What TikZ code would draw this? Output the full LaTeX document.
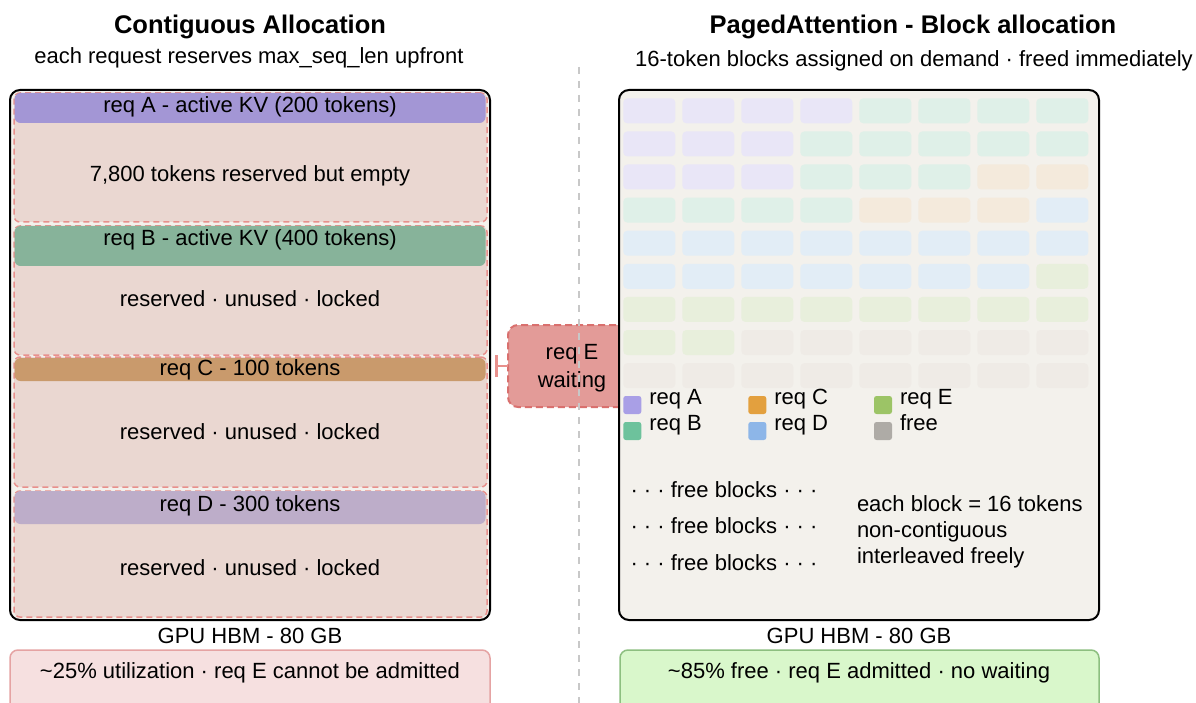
\documentclass[tikz,border=0pt]{standalone}
\usepackage{fontspec}
\setmainfont{Liberation Sans}
\usetikzlibrary{arrows.meta}

\definecolor{panelbg}{HTML}{F3F1EC}
\definecolor{resfill}{HTML}{EAD7D1}
\definecolor{resline}{HTML}{E8908C}
\definecolor{barA}{HTML}{A396D5}
\definecolor{barB}{HTML}{87B39A}
\definecolor{barC}{HTML}{C99A6C}
\definecolor{barD}{HTML}{BDADC9}
\definecolor{waitfill}{HTML}{E39B98}
\definecolor{waitline}{HTML}{D9706E}
\definecolor{divline}{HTML}{C8C8C8}
\definecolor{badfill}{HTML}{F6E0E0}
\definecolor{badline}{HTML}{E5A3A3}
\definecolor{goodfill}{HTML}{D9F7CB}
\definecolor{goodline}{HTML}{8DBF80}
% legend colours
\definecolor{keyA}{HTML}{A99FE6}
\definecolor{keyB}{HTML}{6DC29C}
\definecolor{keyC}{HTML}{E3A03E}
\definecolor{keyD}{HTML}{8DB6E8}
\definecolor{keyE}{HTML}{9CC466}
\definecolor{keyF}{HTML}{AEABA6}
% pale block colours
\definecolor{blkA}{HTML}{E9E6F7}
\definecolor{blkB}{HTML}{DFF0E8}
\definecolor{blkC}{HTML}{F4EADC}
\definecolor{blkD}{HTML}{E2EDF6}
\definecolor{blkE}{HTML}{E8EFDC}
\definecolor{blkF}{HTML}{EFEBE6}

\newcommand{\tildesign}{{\char"7E}}

\begin{document}
\begin{tikzpicture}[x=1pt,y=-1pt,
  every node/.style={inner sep=0pt,outer sep=0pt},
  heading/.style={font=\fontsize{25.5}{30}\selectfont\bfseries,anchor=base},
  subhead/.style={font=\fontsize{22}{26}\selectfont,anchor=base},
  txt/.style={font=\fontsize{22}{26}\selectfont,anchor=base},
  txtl/.style={font=\fontsize{22}{26}\selectfont,anchor=base west},
  panelbox/.style={draw=black,line width=2pt,fill=panelbg,rounded corners=10pt,anchor=north west},
  resbox/.style={draw=resline,line width=1.5pt,dash pattern=on 6pt off 4pt,fill=resfill,rounded corners=6pt,anchor=north west,minimum width=473pt},
  barbox/.style={rounded corners=6pt,anchor=north west,minimum width=471pt},
  waitbox/.style={draw=waitline,line width=2pt,dash pattern=on 7pt off 4pt,fill=waitfill,rounded corners=10pt,anchor=north west},
  divider/.style={draw=divline,line width=2pt,dash pattern=on 7pt off 7pt},
  verdict/.style={line width=1.5pt,rounded corners=8pt,anchor=north west,minimum width=479pt,minimum height=80pt},
  keysq/.style={rounded corners=2.5pt,anchor=north west,minimum width=18pt,minimum height=18pt},
  blocker/.style={draw=resline,line width=2pt,-{Bar[width=22pt,line width=3pt]}}
]
\clip (0,0) rectangle (1196,703);
\fill[white] (0,0) rectangle (1196,703);

% ---- column headers ----
\node[heading] (ltitle) at (250,34) {Contiguous Allocation};
\node[subhead] (lsub) at (249,64) {each request reserves max\_seq\_len upfront};
\node[heading] (rtitle) at (913,34) {PagedAttention - Block allocation};
\node[subhead] (rsub) at (914,67) {16-token blocks assigned on demand · freed immediately};

% ---- waiting request (partly under the paged panel) ----
\node[waitbox,minimum width=140pt,minimum height=82pt] (reqE) at (508,325) {};
\node[txt] (reqEa) at (572,359) {req E};
\node[txt] (reqEb) at (572,387) {waiting};
\coordinate (reqEstop) at (495,366);
\draw[blocker] (reqE.west) -- (reqEstop);

% ---- divider ----
\draw[divider] (579,67) -- (579,703);

% ---- contiguous allocation panel ----
\node[panelbox,minimum width=480pt,minimum height=530pt] (lpanel) at (10,90) {};

\node[resbox,minimum height=129pt] (resA) at (14,93) {};
\node[barbox,fill=barA,minimum height=30pt] (barA) at (14.5,93) {};
\node[txt] (labA) at (250,113) {req A - active KV (200 tokens)};
\node[txt] (emptyA) at (250,182) {7,800 tokens reserved but empty};

\node[resbox,minimum height=129pt] (resB) at (14,226) {};
\node[barbox,fill=barB,minimum height=40pt] (barB) at (14.5,226) {};
\node[txt] (labB) at (250,246) {req B - active KV (400 tokens)};
\node[txt] (emptyB) at (250,306) {reserved · unused · locked};

\node[resbox,minimum height=130pt] (resC) at (14,357) {};
\node[barbox,fill=barC,minimum height=23pt] (barC) at (14.5,358) {};
\node[txt] (labC) at (250,375) {req C - 100 tokens};
\node[txt] (emptyC) at (250,439) {reserved · unused · locked};

\node[resbox,minimum height=126pt] (resD) at (14,491) {};
\node[barbox,fill=barD,minimum height=33pt] (barD) at (14.5,491) {};
\node[txt] (labD) at (250,511) {req D - 300 tokens};
\node[txt] (emptyD) at (250,575) {reserved · unused · locked};

\node[txt] (lmem) at (250,643) {GPU HBM - 80 GB};
\node[verdict,draw=badline,fill=badfill,minimum width=480pt] (lverdict) at (10,650) {};
\node[txt] (lverdicttxt) at (250,678) {\tildesign 25\% utilization · req E cannot be admitted};

% ---- paged attention panel ----
\node[panelbox,minimum width=480pt,minimum height=530pt] (rpanel) at (619,90) {};

\foreach \row/\cols in {0/{A,A,A,A,B,B,B,B},1/{A,A,A,B,B,B,B,B},2/{A,A,A,B,B,B,C,C},
                        3/{B,B,B,B,C,C,C,D},4/{D,D,D,D,D,D,D,D},5/{D,D,D,D,D,D,D,E},
                        6/{E,E,E,E,E,E,E,E},7/{E,E,F,F,F,F,F,F},8/{F,F,F,F,F,F,F,F}}{
  \foreach \c [count=\i from 0] in \cols {
    \fill[blk\c,rounded corners=4pt] (623.3+59*\i,98.3+33.1*\row) rectangle +(52,25);
  }
}

% legend
\node[keysq,fill=keyA] (keyA) at (623.3,396) {};
\node[txtl] (keyAt) at (649.3,404) {req A};
\node[keysq,fill=keyB] (keyB) at (623.3,422) {};
\node[txtl] (keyBt) at (649.3,430) {req B};
\node[keysq,fill=keyC] (keyC) at (748.3,396) {};
\node[txtl] (keyCt) at (774.3,404) {req C};
\node[keysq,fill=keyD] (keyD) at (748.3,422) {};
\node[txtl] (keyDt) at (774.3,430) {req D};
\node[keysq,fill=keyE] (keyE) at (874,396) {};
\node[txtl] (keyEt) at (900,404) {req E};
\node[keysq,fill=keyF] (keyF) at (874,422) {};
\node[txtl] (keyFt) at (900,430) {free};

\node[txt] (free1) at (724,497) {· · · free blocks · · ·};
\node[txt] (free2) at (724,533) {· · · free blocks · · ·};
\node[txt] (free3) at (724,570) {· · · free blocks · · ·};

\node[txtl] (note1) at (857,511) {each block = 16 tokens};
\node[txtl] (note2) at (857,537) {non-contiguous};
\node[txtl] (note3) at (857,563) {interleaved freely};

\node[txt] (rmem) at (859,643) {GPU HBM - 80 GB};
\node[verdict,draw=goodline,fill=goodfill] (rverdict) at (620,650) {};
\node[txt] (rverdicttxt) at (859,678) {\tildesign 85\% free · req E admitted · no waiting};
\end{tikzpicture}
\end{document}
